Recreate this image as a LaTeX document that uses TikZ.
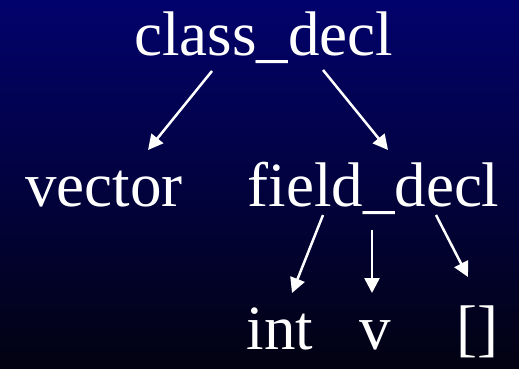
\documentclass[tikz,border=0pt]{standalone}
\usepackage{fontspec}
\setmainfont{Liberation Serif}
\usetikzlibrary{arrows.meta,calc}
\definecolor{bgtop}{RGB}{2,2,108}
\definecolor{bgbot}{RGB}{2,2,18}
\begin{document}
\begin{tikzpicture}[x=1pt,y=1pt,
  lbl/.style={text=white,inner sep=0pt,anchor=base,font=\fontsize{63}{63}\selectfont},
  arr/.style={draw=white,line width=2.5pt,-{Triangle[length=15pt,width=15pt]}}]
\shade[top color=bgtop,bottom color=bgbot] (0,0) rectangle (519,368);
\useasboundingbox (0,0) rectangle (519,368);
\node[lbl] (cd) at (263.5,313) {class\_decl};
\node[lbl] (vec) at (104,162) {vector};
\node[lbl] (fd) at (373.5,162) {field\_decl};
\node[lbl] (int) at (280,19) {int};
\node[lbl] (v) at (375.5,19) {v};
\node[lbl] (br) at (477.5,19) {[]};
\draw[arr] ($(cd.base)+(-51.5,-16)$) -- ($(vec.base)+(44,56)$);
\draw[arr] ($(cd.base)+(59.5,-15)$) -- ($(fd.base)+(14.5,56)$);
\draw[arr] ($(fd.base)+(-50.5,-9)$) -- ($(int.base)+(12,56)$);
\draw[arr] ($(fd.base)+(-1.5,-24)$) -- ($(v.base)+(-3.5,56)$);
\draw[arr] ($(fd.base)+(62.5,-9)$) -- ($(br.base)+(-9.5,72)$);
\end{tikzpicture}
\end{document}
